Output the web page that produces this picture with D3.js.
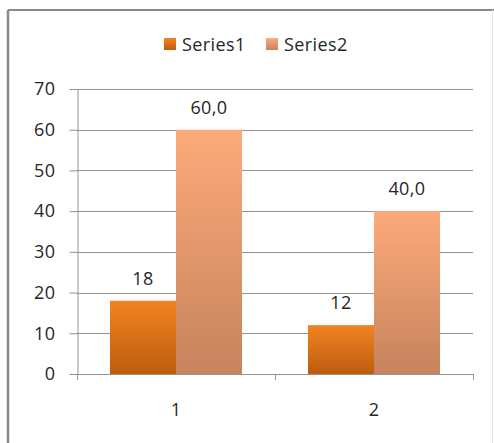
<!DOCTYPE html>
<html>
<head>
<meta charset="utf-8">
<script src="https://cdn.jsdelivr.net/npm/d3@7"></script>
<style>
  html, body { margin: 0; padding: 0; background: #fff; }
  svg { display: block; }
  text { font-family: "Open Sans", "DejaVu Sans", sans-serif; fill: #262626; letter-spacing: 0.4px; }
</style>
</head>
<body>
<script>
// Chart data
const categories = ["1", "2"];
const seriesNames = ["Series1", "Series2"];
const series1 = [18, 12];
const series2 = [60, 40];
const series1Labels = ["18", "12"];
const series2Labels = ["60,0", "40,0"];
const yTicks = [0, 10, 20, 30, 40, 50, 60, 70];

const W = 494, H = 443;
const FS = 18;
const svg = d3.select("body").append("svg").attr("width", W).attr("height", H);

// Gradients for the bars
const defs = svg.append("defs");
const grads = [
  { id: "g1", top: "#F08422", bottom: "#BE5C0E" },
  { id: "g2", top: "#FDAA7A", bottom: "#C6835D" }
];
grads.forEach(g => {
  const lg = defs.append("linearGradient").attr("id", g.id)
    .attr("x1", 0).attr("y1", 0).attr("x2", 0).attr("y2", 1);
  lg.append("stop").attr("offset", "0%").attr("stop-color", g.top);
  lg.append("stop").attr("offset", "100%").attr("stop-color", g.bottom);
});

// Outer frame
svg.append("line").attr("x1", 8).attr("x2", 8).attr("y1", 10).attr("y2", H)
  .attr("stroke", "#8a8a8a").attr("stroke-width", 2.5);
svg.append("line").attr("x1", 8).attr("x2", W).attr("y1", 10).attr("y2", 10)
  .attr("stroke", "#8a8a8a").attr("stroke-width", 2);
svg.append("line").attr("x1", 492.5).attr("x2", 492.5).attr("y1", 10).attr("y2", H)
  .attr("stroke", "#e8e8e8").attr("stroke-width", 1);

const plotLeft = 77, plotRight = 473, plotTop = 89, plotBottom = 374;

const x0 = d3.scaleBand().domain(categories).range([plotLeft, plotRight]).paddingInner(0).paddingOuter(0);
const x1 = d3.scaleBand().domain(seriesNames).range([0, x0.bandwidth()]).paddingInner(0).paddingOuter(0.5);
const y = d3.scaleLinear().domain([0, 70]).range([plotBottom, plotTop]);

// Gridlines
svg.append("g").selectAll("line").data(yTicks.filter(d => d > 0)).join("line")
  .attr("x1", plotLeft).attr("x2", plotRight)
  .attr("y1", d => Math.round(y(d)) + 0.5).attr("y2", d => Math.round(y(d)) + 0.5)
  .attr("stroke", "#939393").attr("stroke-width", 1);

// Y axis
const yAxis = svg.append("g").attr("transform", `translate(${plotLeft + 0.5},0)`)
  .call(d3.axisLeft(y).tickValues(yTicks).tickSize(8).tickPadding(14).tickFormat(d3.format("d")));
yAxis.select(".domain").attr("stroke", "#939393");
yAxis.selectAll(".tick line").attr("stroke", "#939393");
yAxis.selectAll("text").attr("font-size", FS).attr("fill", "#262626")
  .attr("font-family", "'Open Sans', sans-serif");

// Bars
const data = categories.map((c, i) => ({
  cat: c,
  vals: [
    { s: seriesNames[0], v: series1[i], label: series1Labels[i], fill: "url(#g1)" },
    { s: seriesNames[1], v: series2[i], label: series2Labels[i], fill: "url(#g2)" }
  ]
}));

const groups = svg.append("g").selectAll("g").data(data).join("g")
  .attr("transform", d => `translate(${x0(d.cat)},0)`);

groups.selectAll("rect").data(d => d.vals).join("rect")
  .attr("x", d => x1(d.s))
  .attr("width", x1.bandwidth())
  .attr("y", d => y(d.v))
  .attr("height", d => y(0) - y(d.v))
  .attr("fill", d => d.fill);

groups.selectAll("text.lbl").data(d => d.vals).join("text")
  .attr("class", "lbl")
  .attr("x", d => x1(d.s) + x1.bandwidth() / 2)
  .attr("y", d => y(d.v) - 16)
  .attr("text-anchor", "middle")
  .attr("font-size", FS)
  .text(d => d.label);

// X axis
const xAxis = svg.append("g").attr("transform", `translate(0,${plotBottom + 0.5})`)
  .call(d3.axisBottom(x0).tickSize(0).tickPadding(29));
xAxis.select(".domain").attr("stroke", "#939393").attr("d", `M${plotLeft},0H${plotRight}`);
xAxis.selectAll("text").attr("font-size", FS).attr("fill", "#262626")
  .attr("font-family", "'Open Sans', sans-serif");
// Category boundary ticks
svg.append("g").selectAll("line").data([plotLeft, plotLeft + x0.bandwidth(), plotRight]).join("line")
  .attr("x1", d => d + 0.5).attr("x2", d => d + 0.5)
  .attr("y1", plotBottom).attr("y2", plotBottom + 6)
  .attr("stroke", "#939393");

// Legend
const legend = svg.append("g");
const legendItems = [
  { name: seriesNames[0], fill: "url(#g1)", x: 164 },
  { name: seriesNames[1], fill: "url(#g2)", x: 266 }
];
legendItems.forEach(it => {
  legend.append("rect").attr("x", it.x).attr("y", 38).attr("width", 12).attr("height", 12)
    .attr("fill", it.fill);
  legend.append("text").attr("x", it.x + 18).attr("y", 51).attr("font-size", FS).text(it.name);
});
</script>
</body>
</html>
